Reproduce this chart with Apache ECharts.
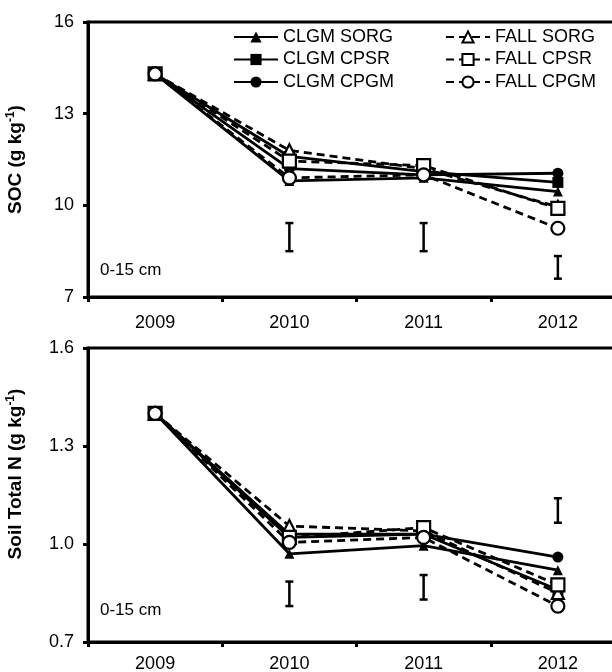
<!DOCTYPE html>
<html>
<head>
<meta charset="utf-8">
<script src="https://cdn.jsdelivr.net/npm/echarts@6/dist/echarts.min.js"></script>
<style>html,body{margin:0;padding:0;background:#fff}#c{width:612px;height:672px}</style>
</head>
<body>
<div id="c"></div>
<script>
const years = ['2009', '2010', '2011', '2012'];
const seriesNames = ['CLGM SORG', 'CLGM CPSR', 'CLGM CPGM', 'FALL SORG', 'FALL CPSR', 'FALL CPGM'];

// SOC (g kg-1)
const socClgmSorg = [14.3, 10.8, 10.9, 10.45];
const socClgmCpsr = [14.3, 11.6, 11.1, 10.75];
const socClgmCpgm = [14.3, 11.2, 11.0, 11.05];
const socFallSorg = [14.3, 11.8, 11.2, 9.95];
const socFallCpsr = [14.3, 11.45, 11.3, 9.9];
const socFallCpgm = [14.3, 10.9, 11.0, 9.25];
const socErr = [[1, 8.5, 9.42], [2, 8.5, 9.42], [3, 7.6, 8.34]];
const socTicks = [7, 10, 13, 16];

// Soil total N (g kg-1)
const tnClgmSorg = [1.40, 0.97, 0.995, 0.92];
const tnClgmCpsr = [1.40, 1.03, 1.03, 0.86];
const tnClgmCpgm = [1.40, 1.02, 1.03, 0.96];
const tnFallSorg = [1.40, 1.055, 1.04, 0.85];
const tnFallCpsr = [1.40, 1.02, 1.05, 0.875];
const tnFallCpgm = [1.40, 1.005, 1.02, 0.81];
const tnErr = [[1, 0.81, 0.885], [2, 0.83, 0.905], [3, 1.065, 1.14]];
const tnTicks = [0.7, 1.0, 1.3, 1.6];

const FONT = 'Liberation Sans, Arial, sans-serif';
const socData = [socClgmSorg, socClgmCpsr, socClgmCpgm, socFallSorg, socFallCpsr, socFallCpgm];
const tnData = [tnClgmSorg, tnClgmCpsr, tnClgmCpgm, tnFallSorg, tnFallCpsr, tnFallCpgm];
const symbols = ['triangle', 'rect', 'circle', 'triangle', 'rect', 'circle'];
const symSize = [10, 11, 11, 12, 13, 13];

function lineSeries(data, axisIdx) {
  return data.map((d, i) => {
    const fall = i >= 3;
    return {
      name: seriesNames[i],
      type: 'line',
      xAxisIndex: axisIdx, yAxisIndex: axisIdx,
      data: d,
      symbol: symbols[i],
      symbolSize: symSize[i],
      showAllSymbol: true,
      animation: false,
      z: fall ? 4 : 3,
      lineStyle: { color: '#000', width: 2.8, type: fall ? [8, 5] : 'solid' },
      itemStyle: fall ? { color: '#fff', borderColor: '#000', borderWidth: 2.2 } : { color: '#000', borderColor: '#000', borderWidth: 0 }
    };
  });
}

function errItem(params, api) {
  const x = api.value(0);
  const lo = api.coord([x, api.value(1)]);
  const hi = api.coord([x, api.value(2)]);
  const w = 4;
  const st = { stroke: '#000', lineWidth: 2.5 };
  return {
    type: 'group',
    children: [
      { type: 'line', shape: { x1: lo[0], y1: lo[1], x2: hi[0], y2: hi[1] }, style: st },
      { type: 'line', shape: { x1: lo[0] - w, y1: lo[1], x2: lo[0] + w, y2: lo[1] }, style: st },
      { type: 'line', shape: { x1: hi[0] - w, y1: hi[1], x2: hi[0] + w, y2: hi[1] }, style: st }
    ]
  };
}

function xAxisCfg(gi, margin) {
  return {
    type: 'category', gridIndex: gi, data: years, boundaryGap: true,
    axisLine: { lineStyle: { color: '#000', width: 3 } },
    axisTick: { show: true, length: 5, lineStyle: { color: '#000', width: 3 } },
    axisLabel: { color: '#000', fontSize: 18, fontFamily: FONT, margin: margin },
    splitLine: { show: false }
  };
}

function yAxisCfg(gi, min, max, ticks, name, fmt, pad) {
  return {
    type: 'value', gridIndex: gi, min: min, max: max,
    name: name, nameLocation: 'middle', nameGap: 62, nameRotate: 90,
    nameTextStyle: {
      color: '#000', fontSize: 19, fontWeight: 'bold', fontFamily: FONT, padding: pad,
      rich: { sup: { fontSize: 12, fontWeight: 'bold', verticalAlign: 'top', padding: [0, 0, 9, 0], fontFamily: FONT, color: '#000' } }
    },
    axisLine: { show: true, lineStyle: { color: '#000', width: 3 } },
    axisTick: { show: true, length: 5, customValues: ticks, lineStyle: { color: '#000', width: 3 } },
    axisLabel: { color: '#000', fontSize: 18, fontFamily: FONT, margin: 14, customValues: ticks, formatter: fmt },
    splitLine: { show: false }
  };
}

const chart = echarts.init(document.getElementById('c'), null, { renderer: 'canvas' });
chart.setOption({
  backgroundColor: '#fff',
  animation: false,
  grid: [
    { left: 88, top: 22, width: 537, height: 275, outerBoundsMode: 'none', containLabel: false, show: true, borderColor: '#000', borderWidth: 3, backgroundColor: 'transparent' },
    { left: 88, top: 348, width: 537, height: 294, outerBoundsMode: 'none', containLabel: false, show: true, borderColor: '#000', borderWidth: 3, backgroundColor: 'transparent' }
  ],
  legend: [
    {
      data: seriesNames.slice(0, 3), orient: 'vertical', left: 228, top: 23,
      itemWidth: 44, itemHeight: 14, itemGap: 4.5,
      textStyle: { color: '#000', fontSize: 18, fontFamily: FONT, lineHeight: 17 }
    },
    {
      data: seriesNames.slice(3), orient: 'vertical', left: 440, top: 23,
      itemWidth: 44, itemHeight: 14, itemGap: 4.5,
      textStyle: { color: '#000', fontSize: 18, fontFamily: FONT, lineHeight: 17 }
    }
  ],
  xAxis: [xAxisCfg(0, 17), xAxisCfg(1, 13)],
  yAxis: [
    yAxisCfg(0, 7, 16, socTicks, 'SOC (g kg{sup|-1})', v => String(v), [0, 0, 0, 0]),
    yAxisCfg(1, 0.7, 1.6, tnTicks, 'Soil Total N (g kg{sup|-1})', v => v.toFixed(1), [0, 0, 0, 42])
  ],
  graphic: [
    { type: 'text', left: 100, top: 262, style: { text: '0-15 cm', fill: '#000', font: '17px ' + FONT } },
    { type: 'text', left: 100, top: 602, style: { text: '0-15 cm', fill: '#000', font: '17px ' + FONT } }
  ],
  series: [
    ...lineSeries(socData, 0),
    ...lineSeries(tnData, 1),
    { type: 'custom', xAxisIndex: 0, yAxisIndex: 0, data: socErr, renderItem: errItem, silent: true, z: 2 },
    { type: 'custom', xAxisIndex: 1, yAxisIndex: 1, data: tnErr, renderItem: errItem, silent: true, z: 2 }
  ]
});
</script>
</body>
</html>
